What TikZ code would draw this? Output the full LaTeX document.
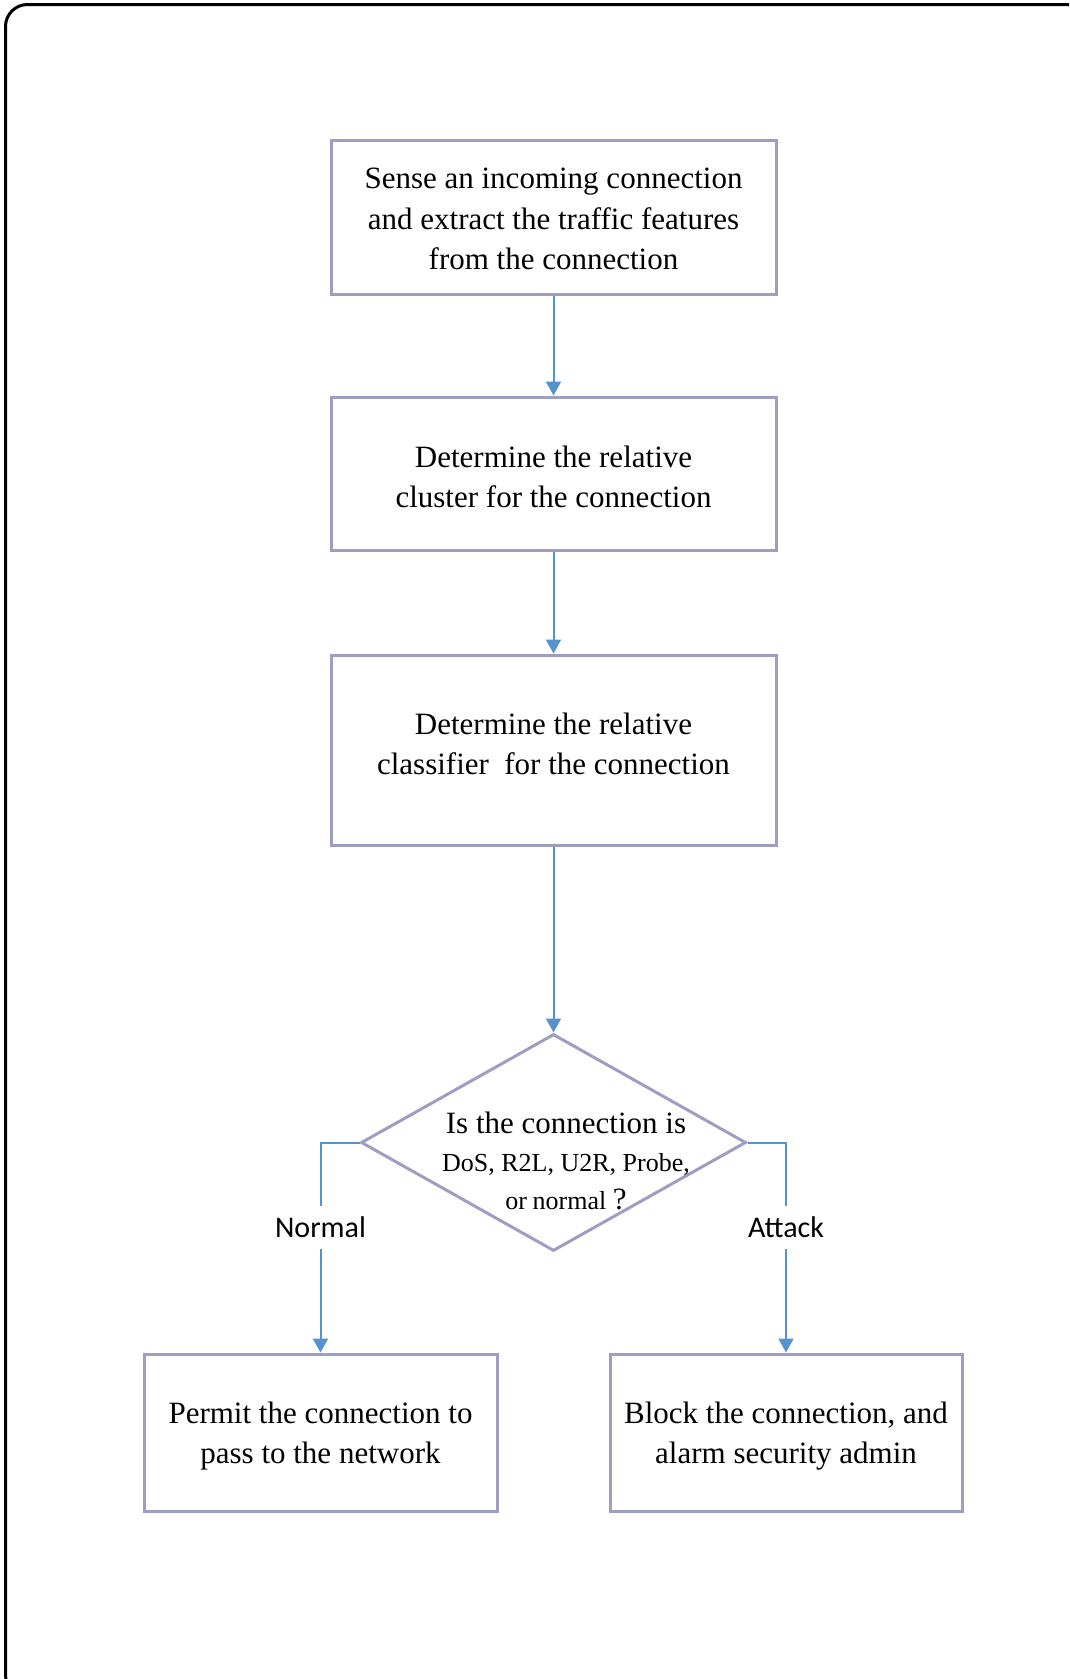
\documentclass[tikz,border=0pt]{standalone}
\usepackage{fontspec}
\setmainfont{Liberation Serif}
\newfontfamily\labelfont{Carlito}
\usetikzlibrary{shapes.geometric,arrows.meta}

\definecolor{boxline}{RGB}{158,158,196}
\definecolor{flowblue}{RGB}{86,146,206}

\tikzset{
  stepbox/.style={draw=boxline, line width=3pt, fill=white, rectangle,
    minimum width=445pt, inner sep=0pt},
  steptext/.style={align=center, inner sep=0pt,
    font=\fontsize{31}{40.5}\selectfont},
  decision/.style={draw=boxline, line width=3pt, diamond, fill=white,
    minimum width=385pt, minimum height=217pt, inner sep=0pt},
  flow/.style={draw=flowblue, line width=2pt,
    -{Triangle[width=15pt,length=14pt]}},
  branchlabel/.style={fill=white, inner sep=0pt, minimum height=43pt,
    font=\labelfont\fontsize{30}{36}\selectfont}
}

\begin{document}
\begin{tikzpicture}[x=1pt,y=-1pt]
  \useasboundingbox (0,0) rectangle (1069,1679);
  % outer frame, running past the right and bottom edges
  \begin{scope}
    \clip (0,0) rectangle (1069,1679);
    \draw[line width=3pt, rounded corners=22pt] (5.5,4.5) rectangle (1088,1697);
  \end{scope}

  % process steps
  \node[stepbox, minimum height=154pt] (sense) at (553.5,217) {};
  \node[steptext] (sensetext) at (553.5,219)
    {Sense an incoming connection\\and extract the traffic features\\from the connection};
  \node[stepbox, minimum height=153pt] (cluster) at (553.5,473.5) {};
  \node[steptext] (clustertext) at (553.5,477)
    {Determine the relative\\cluster for the connection};
  \node[stepbox, minimum height=190pt] (classifier) at (553.5,750) {};
  \node[steptext] (classtext) at (553.5,744)
    {Determine the relative\\classifier\ \ for the connection};

  % decision
  \node[decision] (check) at (553.5,1142.5) {};
  \node[align=center, inner sep=0pt, font=\fontsize{26}{38}\selectfont]
    (checktext) at (566,1161)
    {{\fontsize{31}{38}\selectfont Is the connection is}\\
     DoS, R2L, U2R, Probe,\\
     or\kern-1pt\ normal {\fontsize{31}{38}\selectfont ?}};

  % outcomes
  \node[stepbox, minimum width=353pt, minimum height=157pt] (permit) at (320.5,1432.5) {};
  \node[steptext] (permittext) at (320.5,1436)
    {Permit the connection to\\pass to the network};
  \node[stepbox, minimum width=352pt, minimum height=157pt] (block) at (786,1432.5) {};
  \node[steptext] (blocktext) at (786,1436)
    {Block the connection, and\\alarm security admin};

  % connectors
  \draw[flow] (sense) -- (cluster);
  \draw[flow] (cluster) -- (classifier);
  \draw[flow] (classifier) -- (check.north);
  \draw[flow] (check.west) -| (permit.north);
  \draw[flow] (check.east) -| (block.north);

  % branch labels over the connectors
  \node[branchlabel] (normal) at (320.5,1227) {Normal};
  \node[branchlabel] (attack) at (786,1227) {Attack};
\end{tikzpicture}
\end{document}
